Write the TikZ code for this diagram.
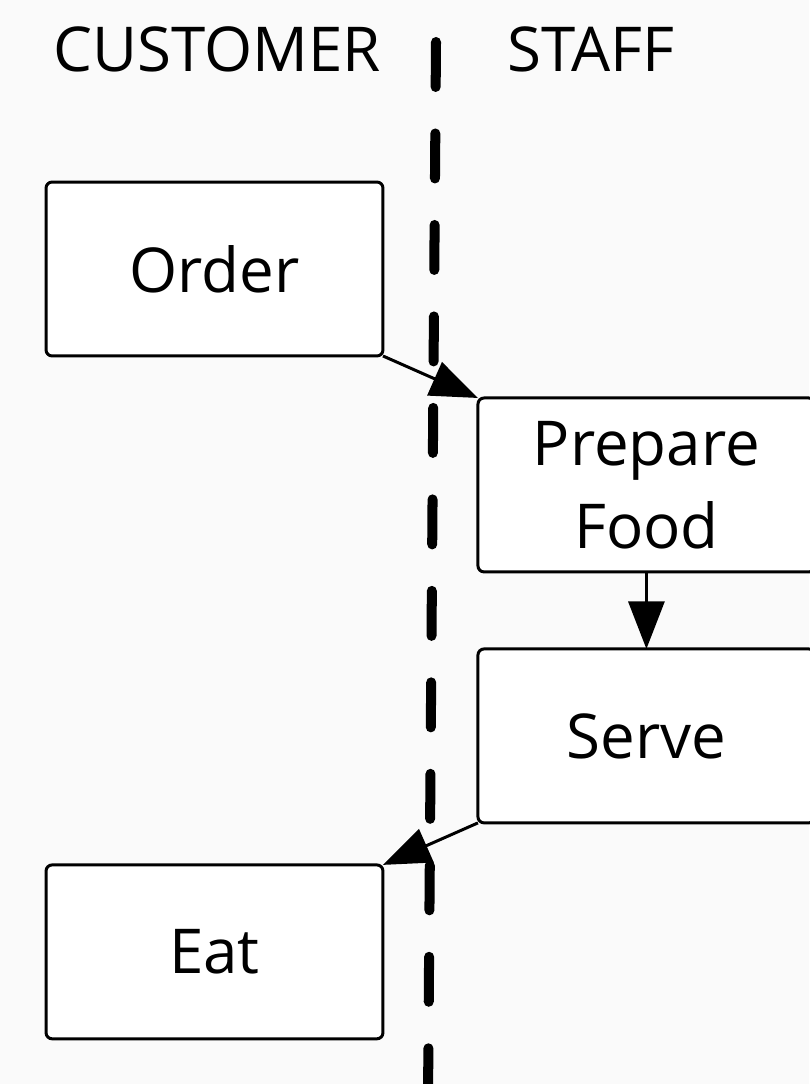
\documentclass[tikz,border=0pt]{standalone}
\usepackage{fontspec}
\setmainfont{Open Sans}
\usepackage{xcolor}
\usepackage{tikz}
\usetikzlibrary{arrows.meta,positioning}

\definecolor{paper}{HTML}{FAFAFA}

\begin{document}
\begin{tikzpicture}[
  x=0.02cm, y=-0.02cm,
  font=\fontsize{35.2}{47}\selectfont,
  box/.style={draw, line width=1.7pt, rounded corners=3.5pt, fill=white, align=center,
              minimum width=6.74cm, minimum height=3.48cm, inner sep=0pt, outer sep=0pt},
  lane/.style={anchor=base west, inner sep=0pt},
  divider/.style={line width=5.7pt, line cap=round, dash pattern=on 0.9cm off 0.93cm},
  arr/.style={-{Triangle[length=0.95cm, width=0.72cm]}, line width=1.7pt}
]
\fill[paper] (0,0) rectangle (809,1084);
\useasboundingbox (0,0) rectangle (809,1084);

% lane titles
\node[lane] (cust) at (53,72) {CUSTOMER};
\node[lane] (staff) at (507,72) {STAFF};

% steps
\node[box] (order) at (214.5,269) {Order};
\node[box, below right=0.84cm and 1.9cm of order] (prep) {Prepare\\Food};
\node[box, below=1.54cm of prep] (serve) {Serve};
\node[box, below left=0.84cm and 1.9cm of serve] (eat) {Eat};

\draw[arr] (order.south east) -- (prep.north west);
\draw[arr] (prep.south) -- (serve.north);
\draw[arr] (serve.south west) -- (eat.north east);

% lane divider
\coordinate (divtop) at (436,42);
\coordinate (divbot) at (428,1100);
\draw[divider] (divtop) -- (divbot);
\end{tikzpicture}
\end{document}
